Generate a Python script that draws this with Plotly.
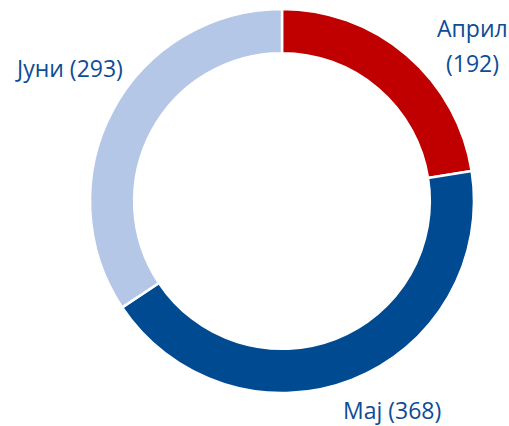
import plotly.graph_objects as go

labels = ["Април", "Мај", "Јуни"]
values = [192, 368, 293]
colors = ["#C00000", "#004A91", "#B4C7E7"]

W, H = 509, 426
fig = go.Figure(go.Pie(
    labels=labels, values=values, hole=0.77, sort=False,
    direction="clockwise", rotation=0,
    marker=dict(colors=colors, line=dict(color="white", width=2.5)),
    textinfo="none", hoverinfo="label+value", showlegend=False,
    domain=dict(x=[90 / W, 474 / W], y=[(H - 393) / H, (H - 9) / H]),
))

txt_color = "#0E4C96"
font = dict(family="Open Sans", size=23, color=txt_color)
# label positions (pixel centres)
pos = {
    "Април": [(472, 28, "{l}"), (472, 63, "({v})")],
    "Мај": [(392, 410, "{l} ({v})")],
    "Јуни": [(69, 68, "{l} ({v})")],
}
anns = []
for l, v in zip(labels, values):
    for (px, py, tpl) in pos[l]:
        anns.append(dict(x=px / W, y=1 - py / H, xref="paper", yref="paper",
                         text=tpl.format(l=l, v=v), showarrow=False,
                         font=font, xanchor="center", yanchor="middle"))

fig.update_layout(width=W, height=H, margin=dict(l=0, r=0, t=0, b=0),
                  paper_bgcolor="white", plot_bgcolor="white", annotations=anns)
fig.write_html("out.html")
